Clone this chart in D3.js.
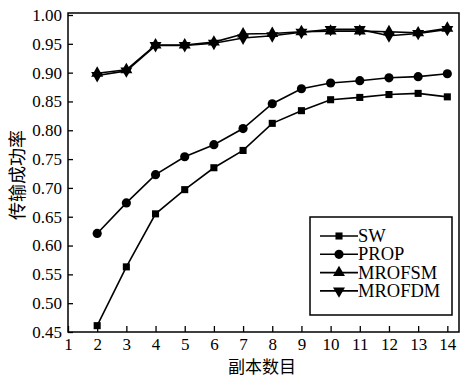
<!DOCTYPE html>
<html>
<head>
<meta charset="utf-8">
<script src="https://cdn.jsdelivr.net/npm/d3@7"></script>
<style>
  html, body { margin: 0; padding: 0; background: #fff; }
  svg { display: block; }
  text { font-family: "Liberation Serif", "Times New Roman", serif; fill: #000; }
  .cjk { font-family: "Noto Sans CJK SC", sans-serif; }
</style>
</head>
<body>
<svg id="chart" width="460" height="377"></svg>
<script>
// 副本数目
const replicas = [2, 3, 4, 5, 6, 7, 8, 9, 10, 11, 12, 13, 14];
const xTicks = [1, 2, 3, 4, 5, 6, 7, 8, 9, 10, 11, 12, 13, 14];
const yTicks = [0.45, 0.50, 0.55, 0.60, 0.65, 0.70, 0.75, 0.80, 0.85, 0.90, 0.95, 1.00];

// 传输成功率
const sw      = [0.461, 0.563, 0.655, 0.697, 0.735, 0.765, 0.812, 0.834, 0.853, 0.857, 0.862, 0.864, 0.858];
const prop    = [0.621, 0.674, 0.723, 0.754, 0.775, 0.803, 0.846, 0.872, 0.882, 0.886, 0.891, 0.893, 0.898];
const mrofsm  = [0.899, 0.905, 0.948, 0.948, 0.953, 0.967, 0.968, 0.971, 0.972, 0.972, 0.971, 0.969, 0.977];
const mrofdm  = [0.895, 0.903, 0.947, 0.947, 0.951, 0.960, 0.964, 0.970, 0.975, 0.975, 0.964, 0.968, 0.975];

const seriesNames = ["SW", "PROP", "MROFSM", "MROFDM"];

const svg = d3.select("#chart");
const mLeft = 68, mRight = 459, mTop = 13, mBottom = 332;

const x = d3.scaleLinear().domain([1, 14.4]).range([mLeft, mRight]);
const y = d3.scaleLinear().domain([0.45, 1.0]).range([mBottom, 15]);

// 符号
const shapes = {
  SW: { type: d3.symbolSquare, size: 50, rot: 0 },
  PROP: { type: d3.symbolCircle, size: 66, rot: 0 },
  MROFSM: { type: d3.symbolTriangle, size: 62, rot: 0 },
  MROFDM: { type: d3.symbolTriangle, size: 62, rot: 180 }
};

const all = [sw, prop, mrofsm, mrofdm].map((vals, i) => ({
  name: seriesNames[i],
  pts: replicas.map((r, j) => ({ x: r, y: vals[j] }))
}));

// 边框
svg.append("rect")
  .attr("x", mLeft).attr("y", mTop)
  .attr("width", mRight - mLeft).attr("height", mBottom - mTop)
  .attr("fill", "none").attr("stroke", "#000").attr("stroke-width", 1.5);

// x轴
const xAxis = d3.axisBottom(x).tickValues(xTicks).tickSize(-6).tickPadding(6).tickFormat(d3.format("d"));
const gx = svg.append("g").attr("transform", `translate(0,${mBottom})`).call(xAxis);
gx.select(".domain").remove();
gx.selectAll("line").attr("stroke-width", 1.3);
gx.selectAll("text").style("font-size", "17px").attr("font-family", null);

// y轴
const yAxis = d3.axisLeft(y).tickValues(yTicks).tickSize(-5).tickPadding(6).tickFormat(d3.format(".2f"));
const gy = svg.append("g").attr("transform", `translate(${mLeft},0)`).call(yAxis);
gy.select(".domain").remove();
gy.selectAll("line").attr("stroke-width", 1.3);
gy.selectAll("text").style("font-size", "17px").attr("font-family", null);

// 轴标题
svg.append("text").attr("class", "cjk")
  .attr("x", 262).attr("y", 373)
  .attr("text-anchor", "middle")
  .style("font-size", "17px")
  .text("副本数目");

svg.append("text").attr("class", "cjk")
  .attr("transform", "translate(24,175) rotate(-90)")
  .attr("text-anchor", "middle")
  .style("font-size", "18px")
  .text("传输成功率");

// 折线
const line = d3.line().x(d => x(d.x)).y(d => y(d.y));

all.forEach(s => {
  svg.append("path")
    .datum(s.pts)
    .attr("d", line)
    .attr("fill", "none")
    .attr("stroke", "#000")
    .attr("stroke-width", 1.6);

  const sh = shapes[s.name];
  svg.append("g").selectAll("path")
    .data(s.pts)
    .enter().append("path")
    .attr("d", d3.symbol().type(sh.type).size(sh.size))
    .attr("transform", d => `translate(${x(d.x)},${y(d.y)}) rotate(${sh.rot})`)
    .attr("fill", "#000");
});

// 图例
const lg = svg.append("g").attr("transform", "translate(310,217)");
lg.append("rect")
  .attr("width", 142).attr("height", 98)
  .attr("fill", "#fff").attr("stroke", "#000").attr("stroke-width", 1.5);

seriesNames.forEach((name, i) => {
  const ly = 19 + i * 18.3;
  lg.append("line")
    .attr("x1", 10).attr("x2", 48)
    .attr("y1", ly).attr("y2", ly)
    .attr("stroke", "#000").attr("stroke-width", 1.6);
  const sh = shapes[name];
  lg.append("path")
    .attr("d", d3.symbol().type(sh.type).size(sh.size))
    .attr("transform", `translate(29,${ly}) rotate(${sh.rot})`)
    .attr("fill", "#000");
  lg.append("text")
    .attr("x", 48).attr("y", ly + 6)
    .style("font-size", "18.5px")
    .text(name);
});
</script>
</body>
</html>
